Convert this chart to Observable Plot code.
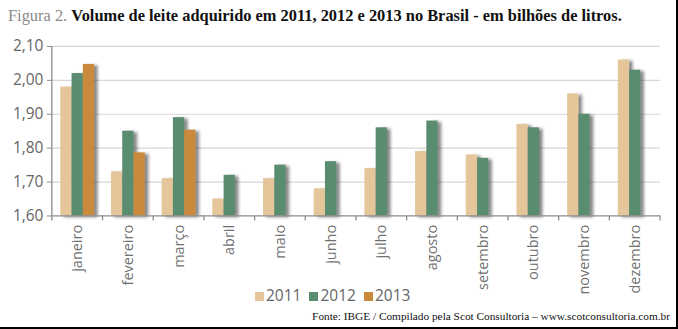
<!DOCTYPE html>
<html>
<head>
<meta charset="utf-8">
<script src="https://cdn.jsdelivr.net/npm/d3@7"></script>
<script src="https://cdn.jsdelivr.net/npm/@observablehq/plot@0.6"></script>
<style>
  body { margin: 0; background: #fff; }
  #wrap { position: relative; width: 676px; height: 327px; border-right: 2px solid #000; border-bottom: 2px solid #000; overflow: hidden; }
  #title { position: absolute; left: 8px; top: 6px; font-family: "Liberation Serif", serif; font-size: 16.4px; color: #111; white-space: nowrap; }
  #title .fig { color: #8a8a8a; }
  #title .main { font-weight: 600; }
  #chart { position: absolute; left: 0; top: 30px; }
  #chart svg { overflow: visible; }
  #legend { position: absolute; left: 255px; top: 284px; font-family: "Open Sans", sans-serif; font-size: 15.5px; color: #666; display: flex; gap: 8px; }
  #legend span.sw { display: inline-block; width: 9px; height: 9px; margin-right: 2px; vertical-align: 0px; }
  #source { position: absolute; right: 6px; top: 310px; font-family: "Liberation Serif", serif; font-size: 11.3px; color: #111; white-space: nowrap; }
</style>
</head>
<body>
<div id="wrap">
  <div id="title"><span class="fig">Figura 2.</span> <span class="main">Volume de leite adquirido em 2011, 2012 e 2013 no Brasil - em bilhões de litros.</span></div>
  <div id="chart"></div>
  <div id="legend"></div>
  <div id="source">Fonte: IBGE / Compilado pela Scot Consultoria – www.scotconsultoria.com.br</div>
</div>
<script>
const months = ["janeiro","fevereiro","março","abril","maio","junho","julho","agosto","setembro","outubro","novembro","dezembro"];
const years = ["2011","2012","2013"];
const colors = ["#e5c69b","#5a8c6f","#c98a3c"];
const v2011 = [1.98,1.73,1.71,1.65,1.71,1.68,1.74,1.79,1.78,1.87,1.96,2.06];
const v2012 = [2.02,1.85,1.89,1.72,1.75,1.76,1.86,1.88,1.77,1.86,1.90,2.03];
const v2013 = [2.047,1.786,1.853];
const yTicks = [1.6,1.7,1.8,1.9,2.0,2.1];

const data = [];
[v2011, v2012, v2013].forEach((arr, i) => {
  arr.forEach((v, j) => data.push({month: months[j], year: years[i], value: v}));
});

const fmt = d => d.toFixed(2).replace(".", ",");

const plot = Plot.plot({
  width: 678,
  height: 270,
  marginLeft: 52,
  marginRight: 16,
  marginTop: 16,
  marginBottom: 84,
  style: {fontFamily: "'Open Sans', sans-serif", fontSize: "15px", color: "#666", background: "transparent", overflow: "visible"},
  fx: {domain: months, padding: 0, round: false, label: null, axis: null},
  x: {domain: years, paddingInner: 0, paddingOuter: 0.75, round: false, axis: null},
  y: {domain: [1.6, 2.1], label: null, axis: null},
  color: {domain: years, range: colors},
  marks: [
    Plot.gridY(yTicks.slice(1), {stroke: "#d6d6d6", strokeOpacity: 1, strokeWidth: 1.2}),
    Plot.barY(data, {fx: "month", x: "year", y1: 1.6, y2: "value", fill: "year"}),
    Plot.ruleY([1.6], {stroke: "#8c8c8c", strokeWidth: 1.3}),
    Plot.axisY(yTicks, {anchor: "left", tickFormat: fmt, tickSize: 5, tickPadding: 4, stroke: "#8c8c8c", fill: "#666", fontSize: 15.5, label: null}),
    Plot.axisFx({anchor: "bottom", tickSize: 0, tickRotate: -90, tickPadding: 9, fill: "#707070", fontSize: 14.5, label: null})
  ]
});

document.getElementById("chart").appendChild(plot);

// drop shadow on bars + axis line / boundary ticks from the library scales
const svg = d3.select(plot);
const defs = svg.insert("defs", ":first-child");
const f = defs.append("filter").attr("id", "sh").attr("x", "-30%").attr("y", "-10%").attr("width", "180%").attr("height", "130%");
f.append("feDropShadow").attr("dx", 3.5).attr("dy", 1.5).attr("stdDeviation", 1.5).attr("flood-color", "#222").attr("flood-opacity", 0.55);
svg.selectAll("g[aria-label='bar'] rect").attr("filter", "url(#sh)");

const fx = plot.scale("fx");
const y = plot.scale("y");
const step = (fx.range[1] - fx.range[0]) / months.length;
const bounds = d3.range(months.length + 1).map(i => fx.range[0] + i * step);
const y0 = y.apply(1.6), y1 = y.apply(2.1);
const g = svg.append("g").attr("stroke", "#8c8c8c").attr("stroke-width", 1.3);
g.append("line").attr("x1", bounds[0]).attr("x2", bounds[0]).attr("y1", y1).attr("y2", y0);
bounds.forEach(b => g.append("line").attr("x1", b).attr("x2", b).attr("y1", y0).attr("y2", y0 + 5));

// legend
const leg = d3.select("#legend");
years.forEach((yr, i) => {
  const s = leg.append("span");
  s.append("span").attr("class", "sw").style("background", colors[i]);
  s.append("span").text(yr);
});
</script>
</body>
</html>
